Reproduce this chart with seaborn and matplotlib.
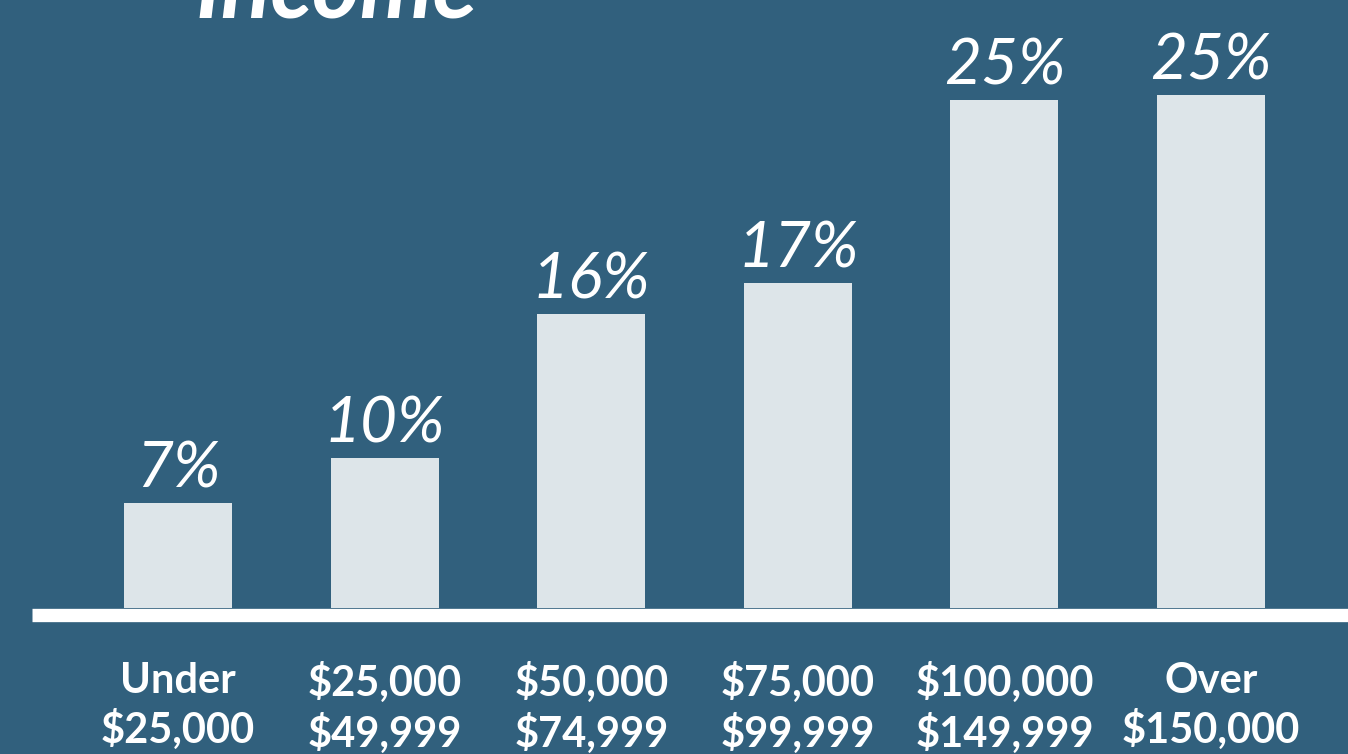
import matplotlib
matplotlib.use('Agg')
import matplotlib.pyplot as plt
import seaborn as sns
import pandas as pd

brackets = ['Under\n$25,000', '$25,000\n$49,999', '$50,000\n$74,999',
            '$75,000\n$99,999', '$100,000\n$149,999', 'Over\n$150,000']
shares = [7, 10, 16, 17, 25, 25]
# drawn heights of the bars (the designer did not draw them to scale)
bar_heights = [7.0, 10.0, 19.6, 21.7, 33.9, 34.2]

df = pd.DataFrame({'bracket': brackets, 'height': bar_heights, 'share': shares})

bg = '#31607d'
bar_col = '#dde5e9'

sns.set_theme(style='white')
plt.rcParams['font.family'] = ['Lato', 'DejaVu Sans']

fig = plt.figure(figsize=(13.48, 7.54), dpi=100, facecolor=bg)
ax = fig.add_axes([0, 146/754, 1, 608/754])
ax.set_facecolor(bg)

sns.barplot(data=df, x='bracket', y='height', color=bar_col, width=0.523,
            saturation=1, linewidth=0, ax=ax)

#labels over bars
for i, row in df.iterrows():
    ax.annotate(f"{row['share']}%", (i, row['height']), xytext=(0, 11),
                textcoords='offset points', ha='center', va='baseline',
                fontsize=46, style='italic', color='white')

#white base line
ax.axhline(-0.47, xmin=32/1348, xmax=1, lw=9.6, color='white',
           solid_capstyle='butt', clip_on=False)

ax.set_xlim(-0.862, 5.663)
ax.set_ylim(0, 608/15)
ax.set_xlabel('')
ax.set_ylabel('')
ax.set_yticks([])
ax.tick_params(axis='x', length=0, pad=39)
for lab in ax.get_xticklabels():
    lab.set_fontsize(30)
    lab.set_fontweight('bold')
    lab.set_color('white')
    lab.set_linespacing(1.27)
sns.despine(left=True, bottom=True)

fig.text(195/1348, 1 - 17/754, 'Income', fontsize=66, fontweight='bold',
         style='italic', color='white', ha='left', va='baseline')

fig.savefig('out.png', dpi=100, facecolor=bg)
